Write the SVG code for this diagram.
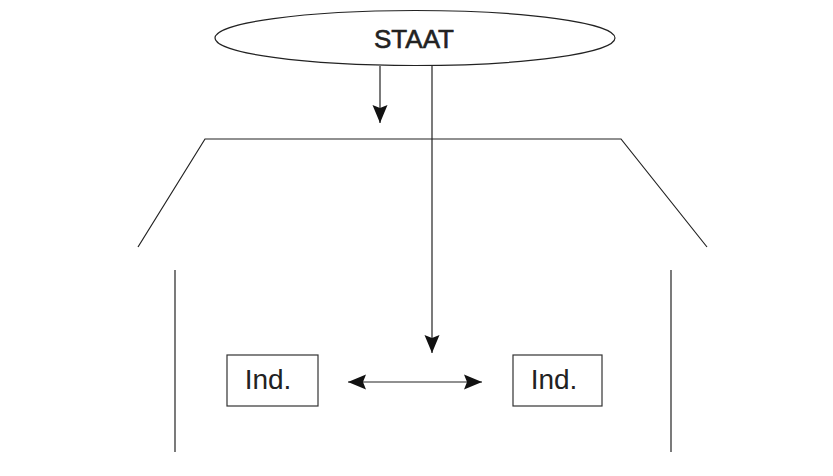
<svg xmlns="http://www.w3.org/2000/svg" width="833" height="476" viewBox="0 0 833 476">
<defs>
<style>
.ln{stroke:#222;stroke-width:1.2;fill:none}
.box{stroke:#333;stroke-width:1.2;fill:#fff}
.lbl{font-family:"Liberation Sans",Arial,sans-serif;fill:#222;text-anchor:middle}
</style>
<marker id="ah" viewBox="0 0 18 16" refX="18" refY="8" markerWidth="18" markerHeight="16" markerUnits="userSpaceOnUse" orient="auto-start-reverse">
<path d="M0,0.5 L18,8 L0,15.5 L3,8 Z" fill="#111"/>
</marker>
</defs>
<rect width="833" height="476" fill="#fff"/>
<g id="house">
<polyline class="ln" points="138,247 205,139 621,139 707,247"/>
<line class="ln" x1="175" y1="270" x2="175" y2="452"/>
<line class="ln" x1="671" y1="270" x2="671" y2="452"/>
</g>
<g id="staat">
<ellipse cx="415" cy="38" rx="200" ry="27.5" class="ln"/>
<text x="414" y="48" class="lbl" font-size="26" stroke="#222" stroke-width="0.6">STAAT</text>
</g>
<g id="ind1">
<rect x="227" y="355" width="91" height="51" class="box"/>
<text x="268" y="389" class="lbl" font-size="28" fill="#333">Ind.</text>
</g>
<g id="ind2">
<rect x="513" y="355" width="89" height="51" class="box"/>
<text x="554" y="389" class="lbl" font-size="28" fill="#333">Ind.</text>
</g>
<g id="connectors">
<line class="ln" x1="380" y1="66" x2="380" y2="123" marker-end="url(#ah)"/>
<line class="ln" x1="432" y1="66" x2="432" y2="353" marker-end="url(#ah)"/>
<line class="ln" x1="348" y1="382" x2="482" y2="382" marker-start="url(#ah)" marker-end="url(#ah)"/>
</g>
</svg>
